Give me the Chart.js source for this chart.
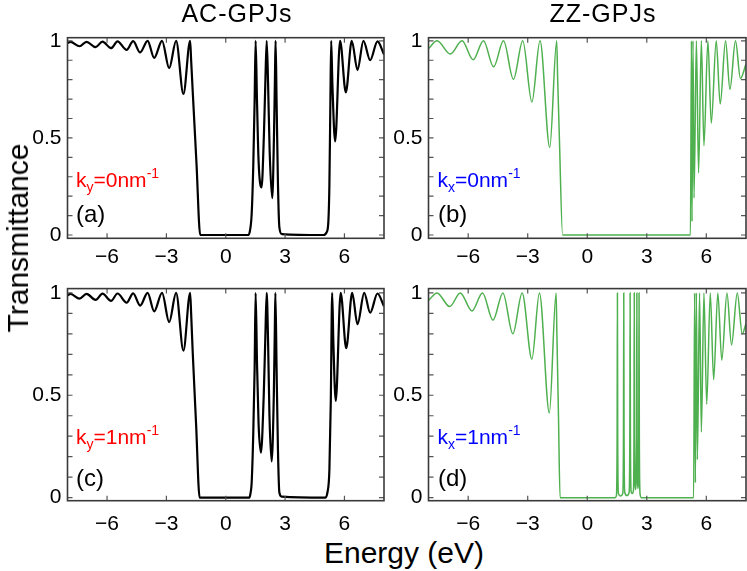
<!DOCTYPE html>
<html lang="en">
<head>
<meta charset="UTF-8">
<title>Transmittance of AC/ZZ GPJs</title>
<script src="https://cdn.jsdelivr.net/npm/chart.js"></script>
<style>
    body {
        margin: 0;
        width: 747px;
        height: 571px;
        position: relative;
        overflow: hidden;
        background: #fff;
        font-family: "Liberation Sans", Arial, sans-serif;
    }
    canvas { position: absolute; }
    .txt {
        position: absolute;
        line-height: 1;
        white-space: nowrap;
        color: #000;
        z-index: 2;
    }
    .title { font-size: 25px; letter-spacing: 1px; transform: translateX(-50%); }
    .axis { font-size: 30px; }
    .tag { font-size: 24px; }
    .k { font-size: 21px; }
    .k .lo, .k .hi { font-size: 14px; position: relative; }
    .k .lo { top: 5px; }
    .k .hi { top: -9px; }
    .red { color: #ff0000; }
    .blue { color: #0000ff; }
</style>
</head>
<body>

<canvas id="panelA" width="390" height="270" style="left:0;top:0"></canvas>
<canvas id="panelB" width="359" height="270" style="left:388px;top:0"></canvas>
<canvas id="panelC" width="390" height="261" style="left:0;top:270px"></canvas>
<canvas id="panelD" width="359" height="261" style="left:388px;top:270px"></canvas>

<div class="txt title" style="left:237px;top:1px">AC-GPJs</div>
<div class="txt title" style="left:603px;top:1px">ZZ-GPJs</div>
<div class="txt axis" style="left:18px;top:238px;transform:translate(-50%,-50%) rotate(-90deg)">Transmittance</div>
<div class="txt axis" style="left:404px;top:537.6px;transform:translateX(-50%)">Energy (eV)</div>

<div class="txt k red" style="left:76px;top:168.9px">k<span class="lo">y</span>=0nm<span class="hi">-1</span></div>
<div class="txt tag" style="left:76px;top:201.7px">(a)</div>
<div class="txt k blue" style="left:437.5px;top:168.9px">k<span class="lo">x</span>=0nm<span class="hi">-1</span></div>
<div class="txt tag" style="left:438px;top:201.7px">(b)</div>
<div class="txt k red" style="left:76px;top:425.5px">k<span class="lo">y</span>=1nm<span class="hi">-1</span></div>
<div class="txt tag" style="left:76px;top:466.4px">(c)</div>
<div class="txt k blue" style="left:437.5px;top:425.5px">k<span class="lo">x</span>=1nm<span class="hi">-1</span></div>
<div class="txt tag" style="left:438px;top:466.4px">(d)</div>

<script>
    // Tick positions
    const xTicks = [-6, -3, 0, 3, 6];
    const yLabelTicks = [0, 0.5, 1];
    const yMinorTicks = [0, 0.1, 0.2, 0.3, 0.4, 0.5, 0.6, 0.7, 0.8, 0.9, 1.0];

    // (a) AC-GPJs, ky = 0 nm^-1
    const acEnergy0 = [-8.00, -7.85, -7.39, -7.04, -6.58, -6.23, -5.80, -5.47, -5.01, -4.68,
                       -4.33, -3.95, -3.62, -3.22, -2.86, -2.51, -2.14, -1.80, -1.75, -1.66,
                       -1.48, -1.29, 1.14, 1.22, 1.31, 1.39, 1.46, 1.51, 1.58, 1.66,
                       1.81, 1.93, 2.00, 2.07, 2.14, 2.22, 2.35, 2.44, 2.49, 2.52,
                       2.57, 2.64, 2.71, 2.83, 4.94, 5.10, 5.19, 5.24, 5.29, 5.33,
                       5.39, 5.53, 5.78, 6.07, 6.37, 6.66, 6.96, 7.30, 7.67, 8.00];
    const acTrans0  = [0.988, 0.995, 0.972, 0.995, 0.967, 0.996, 0.962, 0.997, 0.953, 0.998,
                       0.940, 1.000, 0.912, 1.000, 0.859, 1.000, 0.726, 1.000, 0.900, 0.720,
                       0.370, 0.000, 0.000, 0.020, 0.108, 0.350, 0.690, 1.000, 0.690, 0.380,
                       0.245, 0.520, 0.780, 1.000, 0.780, 0.430, 0.190, 0.520, 0.830, 1.000,
                       0.690, 0.260, 0.040, 0.005, 0.000, 0.014, 0.074, 0.260, 0.690, 1.000,
                       0.780, 0.482, 1.000, 0.734, 1.000, 0.849, 1.000, 0.900, 0.997, 0.930];

    // (c) AC-GPJs, ky = 1 nm^-1
    const acEnergy1 = [-8.00, -7.85, -7.39, -7.04, -6.58, -6.23, -5.80, -5.47, -5.01, -4.68,
                       -4.33, -3.95, -3.62, -3.22, -2.86, -2.51, -2.14, -1.80, -1.75, -1.67,
                       -1.50, -1.32, 1.19, 1.25, 1.31, 1.39, 1.46, 1.51, 1.58, 1.66,
                       1.78, 1.92, 2.00, 2.07, 2.14, 2.21, 2.32, 2.43, 2.48, 2.51,
                       2.57, 2.64, 2.71, 2.83, 5.02, 5.14, 5.24, 5.31, 5.38, 5.44,
                       5.56, 5.81, 6.09, 6.39, 6.66, 7.00, 7.30, 7.67, 8.00];
    const acTrans1  = [0.988, 0.995, 0.972, 0.995, 0.966, 0.996, 0.961, 0.997, 0.952, 0.998,
                       0.938, 1.000, 0.910, 1.000, 0.857, 1.000, 0.718, 1.000, 0.900, 0.710,
                       0.360, 0.000, 0.000, 0.020, 0.073, 0.310, 0.630, 1.000, 0.660, 0.360,
                       0.220, 0.500, 0.780, 1.000, 0.760, 0.400, 0.177, 0.500, 0.820, 1.000,
                       0.630, 0.230, 0.025, 0.005, 0.000, 0.025, 0.137, 0.470, 1.000, 0.760,
                       0.472, 1.000, 0.730, 1.000, 0.847, 1.000, 0.903, 0.997, 0.935];

    // (b) ZZ-GPJs, kx = 0 nm^-1
    const zzEnergy0 = [-8.00, -7.57, -6.90, -6.31, -5.75, -5.23, -4.72, -4.22, -3.72, -3.25,
                       -2.79, -2.38, -1.89, -1.54, -1.49, -1.41, -1.24, 5.20, 5.25, 5.28,
                       5.33, 5.38, 5.50, 5.61, 5.75, 5.88, 6.08, 6.25, 6.50, 6.70,
                       6.97, 7.19, 7.47, 7.72, 8.00];
    const zzTrans0  = [0.960, 1.000, 0.932, 1.000, 0.902, 1.000, 0.866, 1.000, 0.802, 1.000,
                       0.685, 1.000, 0.451, 1.000, 0.800, 0.520, 0.000, 0.000, 1.000, 0.070,
                       1.000, 0.190, 1.000, 0.320, 1.000, 0.460, 1.000, 0.575, 1.000, 0.674,
                       1.000, 0.750, 1.000, 0.806, 0.880];

    // (d) ZZ-GPJs, kx = 1 nm^-1
    const zzEnergy1 = [-8.00, -7.57, -6.93, -6.40, -5.81, -5.28, -4.75, -4.25, -3.75, -3.28,
                       -2.79, -2.41, -1.91, -1.57, -1.53, -1.45, -1.37, 1.40, 1.47, 1.505,
                       1.52, 1.535, 1.57, 1.68, 1.79, 1.825, 1.84, 1.855, 1.89, 2.00,
                       2.11, 2.145, 2.16, 2.175, 2.21, 2.27, 2.33, 2.355, 2.37, 2.385,
                       2.435, 2.485, 2.50, 2.515, 2.555, 2.595, 2.61, 2.625, 2.66, 2.72,
                       5.36, 5.41, 5.45, 5.50, 5.55, 5.66, 5.75, 5.88, 6.02, 6.20,
                       6.37, 6.58, 6.78, 7.04, 7.27, 7.56, 7.81, 8.00];
    const zzTrans1  = [0.963, 1.000, 0.933, 1.000, 0.912, 1.000, 0.867, 1.000, 0.800, 1.000,
                       0.676, 1.000, 0.414, 1.000, 0.800, 0.400, 0.000, 0.000, 0.010, 0.300,
                       1.000, 0.300, 0.020, 0.008, 0.020, 0.300, 1.000, 0.300, 0.025, 0.010,
                       0.025, 0.300, 1.000, 0.300, 0.030, 0.020, 0.035, 0.300, 1.000, 0.300,
                       0.040, 0.300, 1.000, 0.300, 0.045, 0.300, 1.000, 0.300, 0.020, 0.000,
                       0.000, 1.000, 0.073, 1.000, 0.185, 1.000, 0.320, 1.000, 0.456, 1.000,
                       0.576, 1.000, 0.671, 1.000, 0.746, 1.000, 0.800, 0.850];

    const FONT = '"Liberation Sans", Arial, sans-serif';

    // box + inward ticks on all four sides
    const framePlugin = {
        id: 'frame',
        afterDraw(chart) {
            const { ctx, chartArea: a, scales } = chart;
            ctx.save();
            ctx.strokeStyle = '#555';
            ctx.lineWidth = 1.2;
            ctx.beginPath();
            xTicks.forEach(v => {
                const px = scales.x.getPixelForValue(v);
                ctx.moveTo(px, a.bottom); ctx.lineTo(px, a.bottom - 5);
                ctx.moveTo(px, a.top); ctx.lineTo(px, a.top + 5);
            });
            yMinorTicks.forEach(v => {
                const py = scales.y.getPixelForValue(v);
                ctx.moveTo(a.left, py); ctx.lineTo(a.left + 5, py);
                ctx.moveTo(a.right, py); ctx.lineTo(a.right - 5, py);
            });
            ctx.stroke();
            ctx.strokeStyle = '#3a3a3a';
            ctx.lineWidth = 1.6;
            ctx.strokeRect(a.left, a.top, a.right - a.left, a.bottom - a.top);
            ctx.restore();
        }
    };

    function makePanel(id, energy, trans, color, lineWidth, box) {
        new Chart(document.getElementById(id), {
            type: 'line',
            data: {
                datasets: [{
                    data: energy.map((e, i) => ({ x: e, y: trans[i] })),
                    borderColor: color,
                    borderWidth: lineWidth,
                    pointRadius: 0,
                    fill: false,
                    cubicInterpolationMode: 'monotone'
                }]
            },
            options: {
                responsive: false,
                animation: false,
                layout: { padding: { top: box.top, right: box.right, left: 0, bottom: 0 } },
                plugins: { legend: { display: false }, tooltip: { enabled: false } },
                scales: {
                    x: {
                        type: 'linear',
                        min: -8,
                        max: 8,
                        grid: { display: false, drawTicks: false },
                        border: { display: false },
                        afterBuildTicks: s => { s.ticks = xTicks.map(v => ({ value: v })); },
                        afterFit: s => { s.height = box.xh; },
                        ticks: {
                            font: { size: 21, family: FONT },
                            color: '#000',
                            padding: box.xpad,
                            maxRotation: 0,
                            callback: v => (v < 0 ? '\u2212' + Math.abs(v) : String(v))
                        }
                    },
                    y: {
                        min: box.ymin,
                        max: box.ymax,
                        grid: { display: false, drawTicks: false },
                        border: { display: false },
                        afterBuildTicks: s => { s.ticks = yLabelTicks.map(v => ({ value: v })); },
                        afterFit: s => { s.width = box.yw; },
                        ticks: {
                            font: { size: 21, family: FONT },
                            color: '#000',
                            padding: 6,
                            callback: v => String(v)
                        }
                    }
                }
            },
            plugins: [framePlugin]
        });
    }

    const GREEN = '#4fb04f';
    makePanel('panelA', acEnergy0, acTrans0, '#000', 2.2,
        { top: 37.7, right: 6, yw: 67.5, xh: 31.7, xpad: 6, ymin: -0.017, ymax: 1.016 });
    makePanel('panelB', zzEnergy0, zzTrans0, GREEN, 1.5,
        { top: 37.7, right: 1, yw: 40.5, xh: 31.7, xpad: 6, ymin: -0.017, ymax: 1.016 });
    makePanel('panelC', acEnergy1, acTrans1, '#000', 2.2,
        { top: 14, right: 6, yw: 67.5, xh: 30.3, xpad: 11, ymin: -0.015, ymax: 1.021 });
    makePanel('panelD', zzEnergy1, zzTrans1, GREEN, 1.5,
        { top: 14, right: 1, yw: 40.5, xh: 30.3, xpad: 11, ymin: -0.015, ymax: 1.021 });
</script>
</body>
</html>
